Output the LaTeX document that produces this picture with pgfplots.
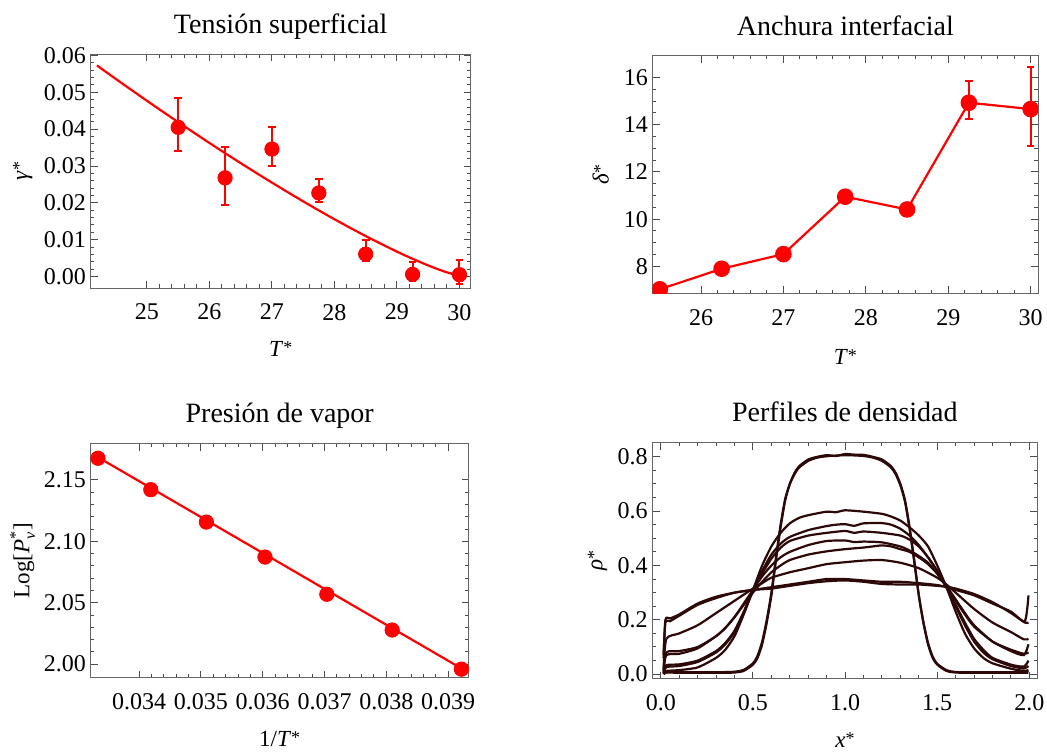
\documentclass[border=0pt]{standalone}
\usepackage{fontspec}
\usepackage{amsmath}
\setmainfont{Liberation Serif}
\newfontfamily\tickfont{Liberation Serif}
\usepackage{pgfplots}
\pgfplotsset{compat=1.18}

\definecolor{prof}{RGB}{45,8,8}
\newcommand\st{\raisebox{0.12em}{\small *}}

\pgfplotsset{
  mma/.style={
    scale only axis,
    axis line style={black!60, line width=0.5pt},
    tick style={black!70, line width=0.5pt},
    major tick length=3.5pt, minor tick length=1.8pt,
    tick align=inside,
    enlargelimits=false,
    /pgf/number format/assume math mode=true,
    every tick label/.append style={font=\tickfont\fontsize{12}{14}\selectfont},
    xticklabel style={yshift=-4.5pt},
    yticklabel style={xshift=1.15pt},
    title style={font=\rmfamily\fontsize{14}{16}\selectfont, at={(axis description cs:0.5,1)}, anchor=base, yshift=4.3pt},
    label style={font=\rmfamily\fontsize{11.5}{13}\selectfont},
  },
  dots/.style={red, mark=*, mark size=3.6pt, mark options={solid, fill=red, draw=red}},
  ebars/.style={error bars/.cd, y dir=both, y explicit,
    error bar style={line width=1pt, red},
    error mark options={rotate=90, mark size=1.9pt, line width=1pt, red}},
  profl/.style={prof, line width=1.1pt, smooth, tension=0.4, mark=none, solid},
}

\begin{document}
\begin{tikzpicture}
\useasboundingbox (0,0) rectangle (523.5pt,-375.5pt);

% Tension superficial
\begin{axis}[mma,
  at={(45.35pt,-27pt)}, anchor=north west,
  width=190pt, height=117pt,
  xmin=24.1, xmax=30.18, ymin=-0.0031, ymax=0.0604,
  xtick={25,26,27,28,29,30}, ytick={0,0.01,0.02,0.03,0.04,0.05,0.06},
  minor x tick num=4, minor y tick num=4,
  scaled y ticks=false,
  yticklabel style={/pgf/number format/.cd, fixed, fixed zerofill, precision=2},
  title={Tensión superficial},
  xlabel={\textit{T}\st},
  xlabel style={at={(axis description cs:0.5,0)}, anchor=base, yshift=-34.3pt},
  ylabel={\textit{γ}\st},
  ylabel style={at={([xshift=-33.9pt]axis description cs:0,0.5)}, anchor=center},
]
\addplot[red, line width=1.1pt, smooth] coordinates {
  (24.2,0.0573) (24.5,0.05365) (25,0.0477) (25.5,0.04191) (26,0.03626)
  (26.5,0.03078) (27,0.0255) (27.5,0.02041) (28,0.01556) (28.5,0.01099)
  (29,0.00677) (29.25,0.00483) (29.5,0.00303) (29.75,0.00143) (30,0.00015)
};
\addplot[dots, only marks, ebars] coordinates {
  (25.5,0.0405) += (0,0.0079) -= (0,0.0064)
  (26.25,0.0268) += (0,0.0085) -= (0,0.0074)
  (27,0.0346) += (0,0.0059) -= (0,0.0046)
  (27.75,0.0227) += (0,0.0038) -= (0,0.0025)
  (28.5,0.0061) += (0,0.0037) -= (0,0.0020)
  (29.25,0.0006) += (0,0.0034) -= (0,0.0018)
  (30,0.0005) += (0,0.0041) -= (0,0.0026)
};
\end{axis}

% Anchura interfacial
\begin{axis}[mma,
  at={(326.35pt,-27.85pt)}, anchor=north west,
  width=192.65pt, height=118.8pt,
  xmin=25.414, xmax=30.089, ymin=6.86, ymax=16.92,
  xtick={26,27,28,29,30}, ytick={8,10,12,14,16},
  minor x tick num=4, minor y tick num=3,
  clip marker paths=true,
  title={Anchura interfacial},
  xlabel={\textit{T}\st},
  xlabel style={at={(axis description cs:0.5,0)}, anchor=base, yshift=-35.5pt},
  ylabel={\textit{δ}\st},
  ylabel style={at={([xshift=-26pt]axis description cs:0,0.5)}, anchor=center},
]
\addplot[dots, line width=1.1pt, ebars] coordinates {
  (25.5,7.03) (26.25,7.90) (27,8.52) (27.75,10.95) (28.5,10.41)
  (29.25,14.93) += (0,0.91) -= (0,0.69)
  (30,14.66) += (0,1.79) -= (0,1.57)
};
\end{axis}

% Presion de vapor
\begin{axis}[mma,
  at={(45.35pt,-221.75pt)}, anchor=north west,
  width=189pt, height=117pt,
  xmin=0.033215, xmax=0.039334, ymin=1.9891, ymax=2.1797,
  xtick={0.034,0.035,0.036,0.037,0.038,0.039}, ytick={2,2.05,2.1,2.15},
  minor x tick num=4, minor y tick num=4,
  scaled x ticks=false, scaled y ticks=false,
  xticklabel style={/pgf/number format/.cd, fixed, fixed zerofill, precision=3},
  yticklabel style={/pgf/number format/.cd, fixed, fixed zerofill, precision=2},
  title={Presión de vapor},
  xlabel={1/\textit{T}\st},
  xlabel style={at={(axis description cs:0.5,0)}, anchor=base, yshift=-34.5pt},
  ylabel={Log[$\textit{P}^{\textrm{*}}_{\textit{v}}$]},
  ylabel style={at={([xshift=-34pt]axis description cs:0,0.5)}, anchor=center},
]
\addplot[red, line width=1.1pt] coordinates {(0.033333,2.1685) (0.039216,1.9965)};
\addplot[dots, only marks] coordinates {
  (0.033333,2.1677) (0.034188,2.1421) (0.035088,2.1157) (0.036036,2.0872)
  (0.037037,2.0569) (0.038095,2.0278) (0.039216,1.9959)
};
\end{axis}

% Perfiles de densidad
\begin{axis}[mma,
  at={(326.25pt,-221.25pt)}, anchor=north west,
  width=192.4pt, height=118pt,
  xmin=-0.045, xmax=2.043, ymin=-0.016, ymax=0.8525,
  xtick={0,0.5,1,1.5,2}, ytick={0,0.2,0.4,0.6,0.8},
  minor x tick num=4, minor y tick num=3,
  xticklabel style={/pgf/number format/.cd, fixed, fixed zerofill, precision=1},
  yticklabel style={/pgf/number format/.cd, fixed, fixed zerofill, precision=1},
  title={Perfiles de densidad},
  xlabel={\textit{x}\st},
  xlabel style={at={(axis description cs:0.5,0)}, anchor=base, yshift=-34.3pt},
  ylabel={\textit{ρ}\st},
  ylabel style={at={([xshift=-27.5pt]axis description cs:0,0.5)}, anchor=center},
]
% steep profiles (plateau 0.81)
\addplot[profl] coordinates {
  (0.015,0.0) (0.03,0.006) (0.1,0.005) (0.2,0.005) (0.3,0.005) (0.4,0.006)
  (0.45,0.012) (0.5,0.035) (0.525,0.06) (0.55,0.11) (0.575,0.19) (0.6,0.29)
  (0.625,0.42) (0.65,0.54) (0.675,0.64) (0.7,0.70) (0.725,0.74) (0.75,0.765)
  (0.8,0.79) (0.85,0.80) (0.9,0.806) (0.95,0.803) (1.0,0.81) (1.05,0.808) (1.1,0.807)
  (1.15,0.80) (1.2,0.79) (1.25,0.765) (1.275,0.74) (1.3,0.70) (1.325,0.64)
  (1.35,0.54) (1.375,0.42) (1.4,0.29) (1.425,0.19) (1.45,0.11) (1.475,0.06)
  (1.5,0.035) (1.55,0.012) (1.6,0.006) (1.7,0.005) (1.8,0.005) (1.9,0.005) (1.995,0.005)
};
\addplot[profl] coordinates {
  (0.015,0.0) (0.03,0.01) (0.1,0.008) (0.2,0.007) (0.3,0.007) (0.4,0.009)
  (0.45,0.016) (0.5,0.04) (0.525,0.068) (0.55,0.12) (0.575,0.2) (0.6,0.3)
  (0.625,0.43) (0.65,0.55) (0.675,0.645) (0.7,0.70) (0.725,0.735) (0.75,0.76)
  (0.8,0.785) (0.85,0.797) (0.9,0.802) (1.0,0.806) (1.1,0.803) (1.15,0.797)
  (1.2,0.785) (1.25,0.76) (1.275,0.735) (1.3,0.695) (1.325,0.635) (1.35,0.535)
  (1.375,0.415) (1.4,0.29) (1.425,0.19) (1.45,0.115) (1.475,0.065) (1.5,0.038)
  (1.55,0.015) (1.6,0.008) (1.7,0.007) (1.8,0.007) (1.9,0.007) (1.995,0.012)
};
% plateau 0.60
\addplot[profl] coordinates {
  (0.015,0.005) (0.03,0.012) (0.1,0.015) (0.2,0.025) (0.3,0.06) (0.35,0.09)
  (0.4,0.14) (0.45,0.22) (0.5,0.31) (0.55,0.40) (0.6,0.47) (0.65,0.52)
  (0.7,0.555) (0.75,0.575) (0.8,0.585) (0.9,0.598) (0.95,0.596) (1.0,0.603) (1.1,0.598)
  (1.2,0.59) (1.25,0.58) (1.3,0.565) (1.35,0.54) (1.4,0.51) (1.45,0.47)
  (1.5,0.40) (1.55,0.32) (1.6,0.23) (1.65,0.15) (1.7,0.095) (1.75,0.06)
  (1.8,0.04) (1.9,0.02) (1.97,0.012) (1.995,0.015)
};
% plateau 0.555
\addplot[profl] coordinates {
  (0.015,0.003) (0.03,0.033) (0.1,0.036) (0.2,0.05) (0.3,0.085) (0.35,0.115)
  (0.4,0.16) (0.45,0.23) (0.5,0.31) (0.55,0.38) (0.6,0.44) (0.65,0.48)
  (0.7,0.505) (0.8,0.53) (0.9,0.545) (0.95,0.55) (1.0,0.552) (1.05,0.546) (1.1,0.555)
  (1.2,0.556) (1.25,0.55) (1.3,0.535) (1.35,0.51) (1.4,0.475) (1.45,0.43)
  (1.5,0.38) (1.55,0.32) (1.6,0.25) (1.65,0.18) (1.7,0.12) (1.75,0.08)
  (1.8,0.055) (1.9,0.03) (1.97,0.021) (1.995,0.03)
};
% plateau 0.53
\addplot[profl] coordinates {
  (0.015,0.003) (0.03,0.026) (0.1,0.03) (0.2,0.045) (0.3,0.08) (0.35,0.11)
  (0.4,0.155) (0.45,0.225) (0.5,0.305) (0.55,0.37) (0.6,0.425) (0.65,0.465)
  (0.7,0.49) (0.8,0.51) (0.9,0.52) (1.0,0.527) (1.05,0.52) (1.1,0.525) (1.2,0.52)
  (1.3,0.51) (1.35,0.495) (1.4,0.47) (1.45,0.43) (1.5,0.38) (1.55,0.32)
  (1.6,0.255) (1.65,0.19) (1.7,0.13) (1.75,0.09) (1.8,0.06) (1.9,0.035)
  (1.97,0.028) (1.995,0.05)
};
% plateau 0.49
\addplot[profl] coordinates {
  (0.015,0.01) (0.03,0.07) (0.1,0.075) (0.2,0.095) (0.3,0.14) (0.35,0.17)
  (0.4,0.21) (0.45,0.26) (0.5,0.31) (0.55,0.36) (0.6,0.40) (0.65,0.43)
  (0.7,0.45) (0.8,0.475) (0.9,0.49) (1.0,0.492) (1.05,0.486) (1.1,0.488) (1.2,0.485)
  (1.3,0.47) (1.35,0.455) (1.4,0.435) (1.45,0.41) (1.5,0.37) (1.55,0.32)
  (1.6,0.27) (1.65,0.22) (1.7,0.175) (1.8,0.12) (1.9,0.085) (1.97,0.07) (1.995,0.11)
};
% plateau 0.465
\addplot[profl] coordinates {
  (0.015,0.01) (0.03,0.08) (0.1,0.085) (0.2,0.10) (0.3,0.14) (0.35,0.17)
  (0.4,0.21) (0.45,0.255) (0.5,0.30) (0.55,0.34) (0.6,0.375) (0.65,0.40)
  (0.7,0.42) (0.8,0.44) (0.9,0.452) (1.0,0.46) (1.1,0.466) (1.15,0.47) (1.2,0.474)
  (1.25,0.47) (1.3,0.46) (1.35,0.45) (1.4,0.43) (1.45,0.405) (1.5,0.37)
  (1.55,0.325) (1.6,0.275) (1.65,0.225) (1.7,0.18) (1.8,0.12) (1.9,0.09)
  (1.97,0.075) (1.995,0.08)
};
% plateau 0.42
\addplot[profl] coordinates {
  (0.015,0.02) (0.03,0.13) (0.1,0.15) (0.2,0.18) (0.3,0.225) (0.4,0.27)
  (0.5,0.315) (0.55,0.335) (0.6,0.355) (0.7,0.375) (0.8,0.39) (0.9,0.405)
  (1.0,0.412) (1.1,0.418) (1.2,0.42) (1.3,0.41) (1.4,0.39) (1.5,0.355)
  (1.55,0.33) (1.6,0.30) (1.7,0.24) (1.8,0.19) (1.9,0.155) (1.97,0.128) (1.995,0.13)
};
% plateau 0.35
\addplot[profl] coordinates {
  (0.015,0.06) (0.025,0.2) (0.05,0.205) (0.1,0.22) (0.2,0.26) (0.3,0.285)
  (0.4,0.30) (0.5,0.31) (0.6,0.32) (0.7,0.33) (0.8,0.34) (0.9,0.35) (1.0,0.35)
  (1.1,0.345) (1.2,0.34) (1.3,0.34) (1.4,0.335) (1.5,0.328) (1.55,0.32)
  (1.6,0.31) (1.7,0.29) (1.8,0.26) (1.9,0.23) (1.975,0.195) (1.995,0.29)
};
\addplot[profl] coordinates {
  (0.015,0.07) (0.025,0.19) (0.05,0.195) (0.1,0.215) (0.2,0.255) (0.3,0.28)
  (0.4,0.30) (0.5,0.31) (0.6,0.315) (0.7,0.325) (0.8,0.335) (0.9,0.342)
  (1.0,0.345) (1.1,0.34) (1.2,0.332) (1.3,0.33) (1.4,0.33) (1.5,0.325)
  (1.55,0.322) (1.6,0.315) (1.7,0.295) (1.8,0.265) (1.9,0.225) (1.975,0.19) (1.995,0.19)
};
\end{axis}
\end{tikzpicture}
\end{document}
